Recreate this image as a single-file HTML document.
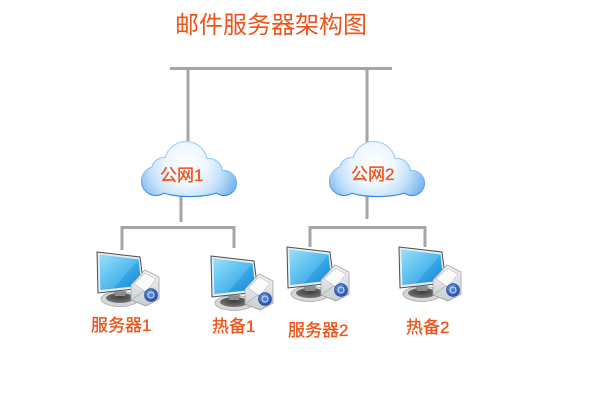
<!DOCTYPE html>
<html>
<head>
<meta charset="utf-8">
<style>
html,body{margin:0;padding:0;background:#fff;}
svg{display:block;}
text{font-family:"Liberation Sans","Noto Sans CJK SC",sans-serif;fill:#f0531a;}
.b{stroke:#f0531a;stroke-width:0.35px;}
</style>
</head>
<body>
<svg width="600" height="400" viewBox="0 0 600 400" xmlns="http://www.w3.org/2000/svg">
<defs>
  <radialGradient id="cg" gradientUnits="userSpaceOnUse" cx="44" cy="24" r="52">
    <stop offset="0" stop-color="#ffffff"/>
    <stop offset="0.4" stop-color="#eef6fe"/>
    <stop offset="0.7" stop-color="#c2e0f9"/>
    <stop offset="1" stop-color="#7ab8f0"/>
  </radialGradient>
  <linearGradient id="cs" gradientUnits="userSpaceOnUse" x1="0" y1="0" x2="0" y2="56">
    <stop offset="0" stop-color="#a9d2f5"/>
    <stop offset="0.6" stop-color="#8ec2f1"/>
    <stop offset="1" stop-color="#2f86e0"/>
  </linearGradient>
  <linearGradient id="scr" x1="0" y1="0" x2="1" y2="1">
    <stop offset="0" stop-color="#8adcf8"/>
    <stop offset="0.45" stop-color="#3fb6ef"/>
    <stop offset="1" stop-color="#1780cf"/>
  </linearGradient>
  <linearGradient id="env" x1="0" y1="0" x2="0" y2="1">
    <stop offset="0" stop-color="#f4f5f6"/>
    <stop offset="1" stop-color="#c9ccd0"/>
  </linearGradient>
  <radialGradient id="at" cx="0.4" cy="0.35" r="0.7">
    <stop offset="0" stop-color="#6e9be0"/>
    <stop offset="1" stop-color="#1d4aa6"/>
  </radialGradient>
  <radialGradient id="st" cx="0.5" cy="0.4" r="0.6">
    <stop offset="0" stop-color="#3b3b3b"/>
    <stop offset="1" stop-color="#777"/>
  </radialGradient>
  <g id="cloud">
    <g fill="none" stroke="url(#cs)" stroke-width="2.2">
      <circle cx="44" cy="22" r="21"/>
      <circle cx="22" cy="29" r="12"/>
      <circle cx="14" cy="40" r="14"/>
      <circle cx="67" cy="31" r="13"/>
      <circle cx="82" cy="42" r="12"/>
      <ellipse cx="48" cy="44" rx="36" ry="11"/>
    </g>
    <g fill="url(#cg)">
      <circle cx="44" cy="22" r="21"/>
      <circle cx="22" cy="29" r="12"/>
      <circle cx="14" cy="40" r="14"/>
      <circle cx="67" cy="31" r="13"/>
      <circle cx="82" cy="42" r="12"/>
      <ellipse cx="48" cy="44" rx="36" ry="11"/>
    </g>
  </g>
  <g id="pc">
    <ellipse cx="26" cy="51" rx="19" ry="7.5" fill="#d5d7d9" stroke="#aaa" stroke-width="0.8"/>
    <ellipse cx="26" cy="50" rx="14" ry="5" fill="url(#st)"/>
    <path d="M20 44 L32 43 L31 48 L21 48 Z" fill="#8a8d90"/>
    <polygon points="3,4 46,9 50,40 4,45" fill="#e9ecef" stroke="#4a4f55" stroke-width="1"/>
    <polygon points="5.5,6.5 44.5,11.5 47.5,37.5 6.5,42" fill="url(#scr)"/>
    <polygon points="6,7 44,12 20,40 7,42" fill="#ffffff" opacity="0.15"/>
    <polygon points="37,37 51,22 65,29 65,51 52,58 37,52" fill="url(#env)" stroke="#9da2a8" stroke-width="0.8"/>
    <polygon points="40,36 51,25 62,31 52,44" fill="#fbfbfb" stroke="#b8bcc0" stroke-width="0.6"/>
    <path d="M37 52 L50 43 L65 51" fill="none" stroke="#b0b4b8" stroke-width="0.8"/>
    <circle cx="57" cy="47" r="6.5" fill="url(#at)" stroke="#163d8f" stroke-width="0.6"/>
    <circle cx="57" cy="47" r="3" fill="none" stroke="#cfe0fa" stroke-width="1"/>
  </g>
</defs>

<text x="175" y="33" font-size="24">邮件服务器架构图</text>

<g stroke="#a6a6a6" stroke-width="3" fill="none">
  <line x1="170" y1="68.5" x2="392" y2="68.5"/>
  <line x1="188" y1="70" x2="188" y2="145"/>
  <line x1="367" y1="70" x2="367" y2="145"/>
  <line x1="181" y1="196" x2="181" y2="222"/>
  <line x1="120.5" y1="227.5" x2="235.5" y2="227.5"/>
  <line x1="122" y1="229" x2="122" y2="250"/>
  <line x1="234" y1="229" x2="234" y2="248"/>
  <line x1="367" y1="196" x2="367" y2="219"/>
  <line x1="308.5" y1="227.5" x2="426.5" y2="227.5"/>
  <line x1="310" y1="229" x2="310" y2="247"/>
  <line x1="425" y1="229" x2="425" y2="247"/>
</g>

<use href="#cloud" x="142" y="141"/>
<use href="#cloud" x="330" y="141"/>
<text class="b" x="160" y="181" font-size="17">公网1</text>
<text class="b" x="351" y="180" font-size="17">公网2</text>

<use href="#pc" x="94" y="248"/>
<use href="#pc" x="208" y="252"/>
<use href="#pc" x="284" y="243"/>
<use href="#pc" x="396" y="243"/>

<text class="b" x="91" y="331" font-size="17">服务器1</text>
<text class="b" x="212" y="332" font-size="17">热备1</text>
<text class="b" x="288" y="336" font-size="17">服务器2</text>
<text class="b" x="406" y="333" font-size="17">热备2</text>
</svg>
</body>
</html>
